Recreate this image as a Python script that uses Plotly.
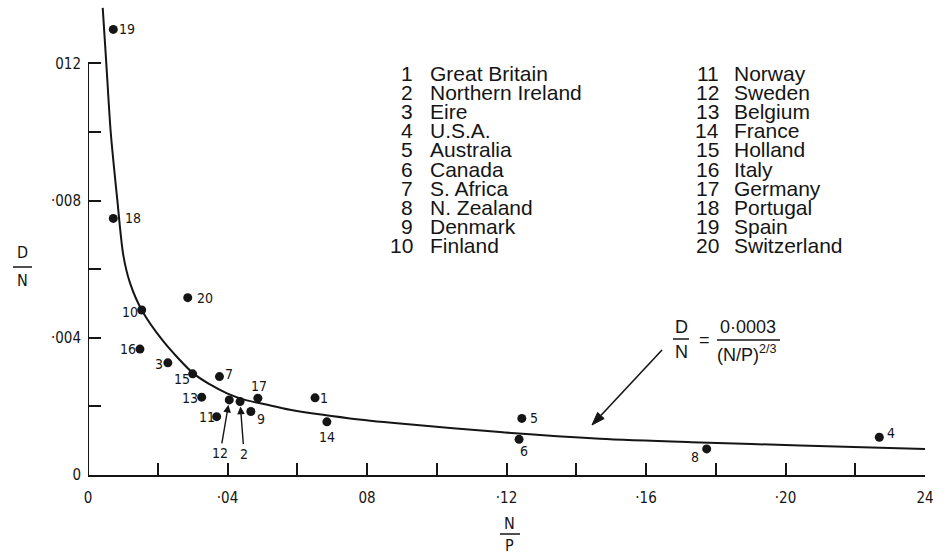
import plotly.graph_objects as go

# ---------------- data ----------------
country_ids = list(range(1, 21))
countries = ["Great Britain", "Northern Ireland", "Eire", "U.S.A.", "Australia",
             "Canada", "S. Africa", "N. Zealand", "Denmark", "Finland",
             "Norway", "Sweden", "Belgium", "France", "Holland",
             "Italy", "Germany", "Portugal", "Spain", "Switzerland"]
np_ratio = [0.0651, 0.0436, 0.0229, 0.2269, 0.1244, 0.1236, 0.0377, 0.1774, 0.0467, 0.0154,
            0.0369, 0.0405, 0.0326, 0.0685, 0.0300, 0.0149, 0.0487, 0.00725, 0.00725, 0.0286]
dn_ratio = [0.00225, 0.00214, 0.00327, 0.00110, 0.00165, 0.00104, 0.00287, 0.00076, 0.00185, 0.00481,
            0.00170, 0.00219, 0.00227, 0.00155, 0.00295, 0.00367, 0.00224, 0.00748, 0.01299, 0.00517]

# fitted curve as drawn in the figure
curve_x = [0.00422, 0.00531, 0.00651, 0.00840, 0.01012, 0.01204, 0.01540, 0.02151, 0.03011,
           0.03498, 0.03986, 0.04502, 0.05075, 0.05792, 0.07513, 0.08946, 0.1181, 0.1468,
           0.1755, 0.2042, 0.2400]
curve_y = [0.01362, 0.01190, 0.01000, 0.00802, 0.00641, 0.00560, 0.00481, 0.00391, 0.00297,
           0.00264, 0.00238, 0.00219, 0.00206, 0.00190, 0.00165, 0.00150, 0.00125, 0.00106,
           0.00095, 0.00086, 0.00076]

x_tick_vals = [0.00, 0.02, 0.04, 0.06, 0.08, 0.10, 0.12, 0.14, 0.16, 0.18, 0.20, 0.22, 0.24]
x_tick_text = ["0", " ", "·04", " ", "08", " ", "·12", " ", "·16", " ", "·20", " ", "24"]
y_tick_vals = [0.000, 0.002, 0.004, 0.006, 0.008, 0.010, 0.012]
y_tick_text = ["0", " ", "·004", " ", "·008", " ", "012"]

formula_num = "0·0003"
formula_den = "(N/P)<sup>2/3</sup>"

# ---------------- layout constants ----------------
W, H = 949, 555
L, R, T, B = 88, 24, 0, 80
PW, PH = W - L - R, H - T - B
INK = "#151515"
NARROW = "Liberation Sans Narrow, DejaVu Sans Condensed, Roboto Condensed, Arial Narrow, sans-serif"
SANS = "Liberation Sans, Arial, Helvetica, sans-serif"


def xp(px):
    return (px - L) / PW


def yp(py):
    return (H - B - py) / PH


# label offsets (pixels, screen coords) relative to each point
label_dx = [9, 4, -9, 12, 12, 5, 10, -12, 10, -12, -10, -9, -12, 0, -11, -12, 1, 20, 14, 17]
label_dy = [0, 52, 1, -4, 0, 12, -3, 8, 7, 2, 0, 53, 1, 15, 5, 0, -12, 0, 0, 0]
arrow_ids = [2, 12]

fig = go.Figure()

fig.add_trace(go.Scatter(x=curve_x, y=curve_y, mode="lines",
                         line=dict(color=INK, width=2, shape="spline", smoothing=0.8),
                         hoverinfo="skip", showlegend=False))
fig.add_trace(go.Scatter(x=np_ratio, y=dn_ratio, mode="markers",
                         marker=dict(color=INK, size=9),
                         text=countries, showlegend=False, cliponaxis=False))

annotations = []
for i, cid in enumerate(country_ids):
    if cid in arrow_ids:
        annotations.append(dict(x=np_ratio[i], y=dn_ratio[i], xref="x", yref="y",
                                text=str(cid), showarrow=True, ax=label_dx[i], ay=label_dy[i],
                                arrowhead=2, arrowsize=1.1, arrowwidth=1.4, arrowcolor=INK,
                                standoff=5, font=dict(family=NARROW, size=14, color=INK)))
    else:
        annotations.append(dict(x=np_ratio[i], y=dn_ratio[i], xref="x", yref="y",
                                text=str(cid), showarrow=False,
                                xshift=label_dx[i], yshift=-label_dy[i],
                                font=dict(family=NARROW, size=14, color=INK)))

# country key (two columns)
row_y0, row_step = 73.5, 19.1
for i, (cid, name) in enumerate(zip(country_ids, countries)):
    col = i // 10
    row = i % 10
    num_x = 415 if col == 0 else 721
    name_x = 428 if col == 0 else 732
    y = yp(row_y0 + row * row_step)
    annotations.append(dict(x=xp(num_x), y=y, xref="paper", yref="paper", text=str(cid),
                            showarrow=False, xanchor="right", yanchor="middle",
                            font=dict(family=SANS, size=21, color=INK)))
    annotations.append(dict(x=xp(name_x), y=y, xref="paper", yref="paper", text=name,
                            showarrow=False, xanchor="left", yanchor="middle",
                            font=dict(family=SANS, size=21, color=INK)))

# formula
ff = dict(family=SANS, size=18, color=INK)
for txt, px, py in [("D", 681, 327), ("N", 681, 352), ("=", 704, 340),
                    (formula_num, 748, 327), (formula_den, 747, 353)]:
    annotations.append(dict(x=xp(px), y=yp(py), xref="paper", yref="paper", text=txt,
                            showarrow=False, xanchor="center", yanchor="middle", font=ff))

# axis titles
tf = dict(family=NARROW, size=16, color=INK)
for txt, px, py in [("D", 22, 253), ("N", 22, 281), ("N", 510, 523), ("P", 510, 545)]:
    annotations.append(dict(x=xp(px), y=yp(py), xref="paper", yref="paper", text=txt,
                            showarrow=False, xanchor="center", yanchor="middle", font=tf))

# arrow pointing to the curve (tail -> tip, in pixels)
tail = (662, 350)
tip = (592, 425)
dx, dy = tip[0] - tail[0], tip[1] - tail[1]
ln = (dx * dx + dy * dy) ** 0.5
ux, uy = dx / ln, dy / ln
hl, hw = 13, 4.5
bx, by = tip[0] - hl * ux, tip[1] - hl * uy
c1 = (bx + hw * (-uy), by + hw * ux)
c2 = (bx - hw * (-uy), by - hw * ux)
head_path = "M {:.5f} {:.5f} L {:.5f} {:.5f} L {:.5f} {:.5f} Z".format(
    xp(tip[0]), yp(tip[1]), xp(c1[0]), yp(c1[1]), xp(c2[0]), yp(c2[1]))

shapes = [
    # y-axis line only up to 0.012
    dict(type="line", xref="x", yref="y", x0=0, x1=0, y0=0, y1=y_tick_vals[-1],
         line=dict(color=INK, width=2)),
    # fraction bars
    dict(type="line", xref="paper", yref="paper", x0=xp(673), x1=xp(689), y0=yp(339), y1=yp(339),
         line=dict(color=INK, width=1.5)),
    dict(type="line", xref="paper", yref="paper", x0=xp(717), x1=xp(780), y0=yp(340), y1=yp(340),
         line=dict(color=INK, width=1.5)),
    dict(type="line", xref="paper", yref="paper", x0=xp(13), x1=xp(32), y0=yp(267), y1=yp(267),
         line=dict(color=INK, width=1.5)),
    dict(type="line", xref="paper", yref="paper", x0=xp(500), x1=xp(520), y0=yp(534), y1=yp(534),
         line=dict(color=INK, width=1.5)),
    # arrow shaft and head
    dict(type="line", xref="paper", yref="paper", x0=xp(tail[0]), y0=yp(tail[1]),
         x1=xp(bx), y1=yp(by), line=dict(color=INK, width=1.6)),
    dict(type="path", xref="paper", yref="paper", path=head_path,
         fillcolor=INK, line=dict(color=INK, width=1)),
]

fig.update_layout(
    width=W, height=H, autosize=False,
    margin=dict(l=L, r=R, t=T, b=B),
    paper_bgcolor="white", plot_bgcolor="white",
    showlegend=False,
    annotations=annotations, shapes=shapes,
    xaxis=dict(range=[0, 0.24], tickmode="array", tickvals=x_tick_vals, ticktext=x_tick_text,
               ticks="inside", ticklen=12, tickwidth=2, tickcolor=INK,
               showline=True, linecolor=INK, linewidth=2, showgrid=False, zeroline=False,
               tickfont=dict(family=NARROW, size=15, color=INK), ticklabelstandoff=8),
    yaxis=dict(range=[0, 0.013848], tickmode="array", tickvals=y_tick_vals, ticktext=y_tick_text,
               ticks="inside", ticklen=13, tickwidth=2, tickcolor=INK,
               showline=False, showgrid=False, zeroline=False,
               tickfont=dict(family=NARROW, size=15, color=INK), ticklabelstandoff=6),
)

fig.write_html("out.html",
               config={"displayModeBar": False},
               post_script="document.body.style.margin='0';document.body.style.padding='0';"
                           "document.documentElement.style.overflow='hidden';")
